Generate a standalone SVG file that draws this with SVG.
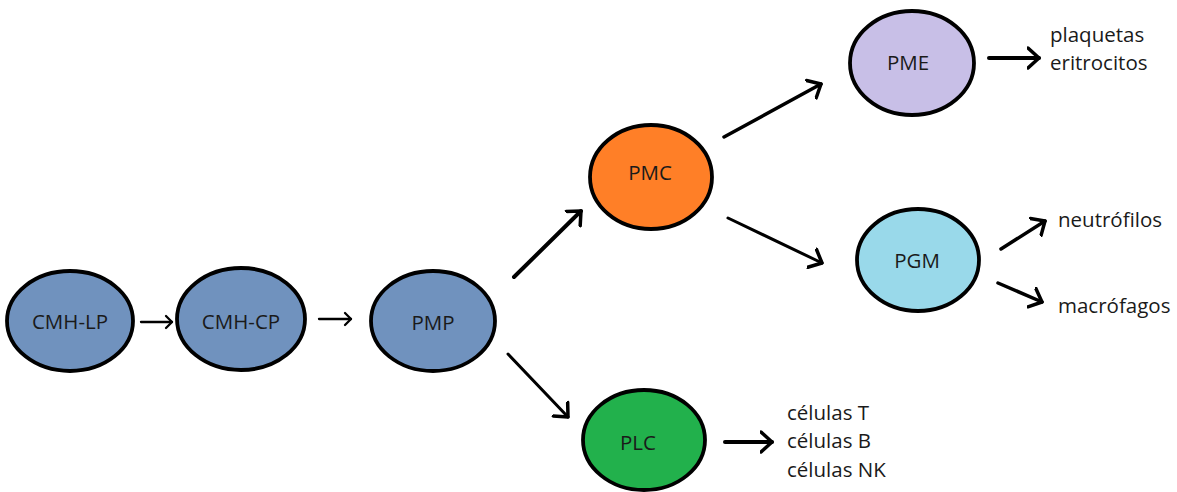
<svg xmlns="http://www.w3.org/2000/svg" width="1177" height="492" viewBox="0 0 1177 492">
<style>
.n{stroke:#000;stroke-width:3.8}
.t{font-family:"Open Sans","Liberation Sans",sans-serif;font-size:20.5px;fill:#1a1a1a}
.c{text-anchor:middle;dominant-baseline:central}
.a{fill:none;stroke:#000;stroke-linecap:round;stroke-linejoin:round}
</style>
<defs>
<marker id="big" markerUnits="userSpaceOnUse" markerWidth="24" markerHeight="24" refX="12" refY="12" orient="auto" viewBox="0 0 24 24">
<path d="M1,2 L12,12 L1,22" fill="none" stroke="#000" stroke-width="3.5" stroke-linecap="round" stroke-linejoin="round"/>
</marker>
<marker id="sm" markerUnits="userSpaceOnUse" markerWidth="16" markerHeight="16" refX="8" refY="8" orient="auto" viewBox="0 0 16 16">
<path d="M2,2 L8,8 L2,14" fill="none" stroke="#000" stroke-width="2.3" stroke-linecap="round" stroke-linejoin="round"/>
</marker>
</defs>
<g id="connectors">
<line class="a" x1="141" y1="322" x2="172" y2="322" stroke-width="2.3" marker-end="url(#sm)"/>
<line class="a" x1="319" y1="319" x2="351" y2="319" stroke-width="2.3" marker-end="url(#sm)"/>
<line class="a" x1="514" y1="277" x2="581" y2="211" stroke-width="4" marker-end="url(#big)"/>
<line class="a" x1="508" y1="354" x2="568" y2="417" stroke-width="3" marker-end="url(#big)"/>
<line class="a" x1="724" y1="137" x2="821" y2="84" stroke-width="3.5" marker-end="url(#big)"/>
<line class="a" x1="728" y1="218" x2="822" y2="263" stroke-width="3" marker-end="url(#big)"/>
<line class="a" x1="989" y1="58" x2="1039" y2="58" stroke-width="4" marker-end="url(#big)"/>
<line class="a" x1="1001" y1="249" x2="1045" y2="221" stroke-width="3.5" marker-end="url(#big)"/>
<line class="a" x1="998" y1="283" x2="1042" y2="302" stroke-width="3.5" marker-end="url(#big)"/>
<line class="a" x1="725" y1="442" x2="772" y2="442" stroke-width="4" marker-end="url(#big)"/>
</g>
<g id="CMH-LP"><ellipse class="n" cx="70" cy="321" rx="63" ry="50" fill="#7092BE"/><text class="t c" x="70" y="321">CMH-LP</text></g>
<g id="CMH-CP"><ellipse class="n" cx="241" cy="319" rx="64" ry="51" fill="#7092BE"/><text class="t c" x="241" y="321">CMH-CP</text></g>
<g id="PMP"><ellipse class="n" cx="433" cy="321" rx="62" ry="50" fill="#7092BE"/><text class="t c" x="433" y="322">PMP</text></g>
<g id="PMC"><ellipse class="n" cx="651" cy="177" rx="61" ry="52" fill="#FF7F27"/><text class="t c" x="650" y="172">PMC</text></g>
<g id="PME"><ellipse class="n" cx="912" cy="63" rx="62" ry="52" fill="#C8BFE7"/><text class="t c" x="908" y="62">PME</text></g>
<g id="PGM"><ellipse class="n" cx="918" cy="260" rx="61" ry="51" fill="#99D9EA"/><text class="t c" x="917" y="260">PGM</text></g>
<g id="PLC"><ellipse class="n" cx="644" cy="440" rx="61" ry="50" fill="#22B14C"/><text class="t c" x="638" y="442">PLC</text></g>
<g id="labels">
<text class="t" x="1050" y="42">plaquetas</text>
<text class="t" x="1050" y="70">eritrocitos</text>
<text class="t" x="1058" y="227">neutrófilos</text>
<text class="t" x="1058" y="313">macrófagos</text>
<text class="t" x="787" y="420">células T</text>
<text class="t" x="787" y="448">células B</text>
<text class="t" x="787" y="477">células NK</text>
</g>
</svg>
